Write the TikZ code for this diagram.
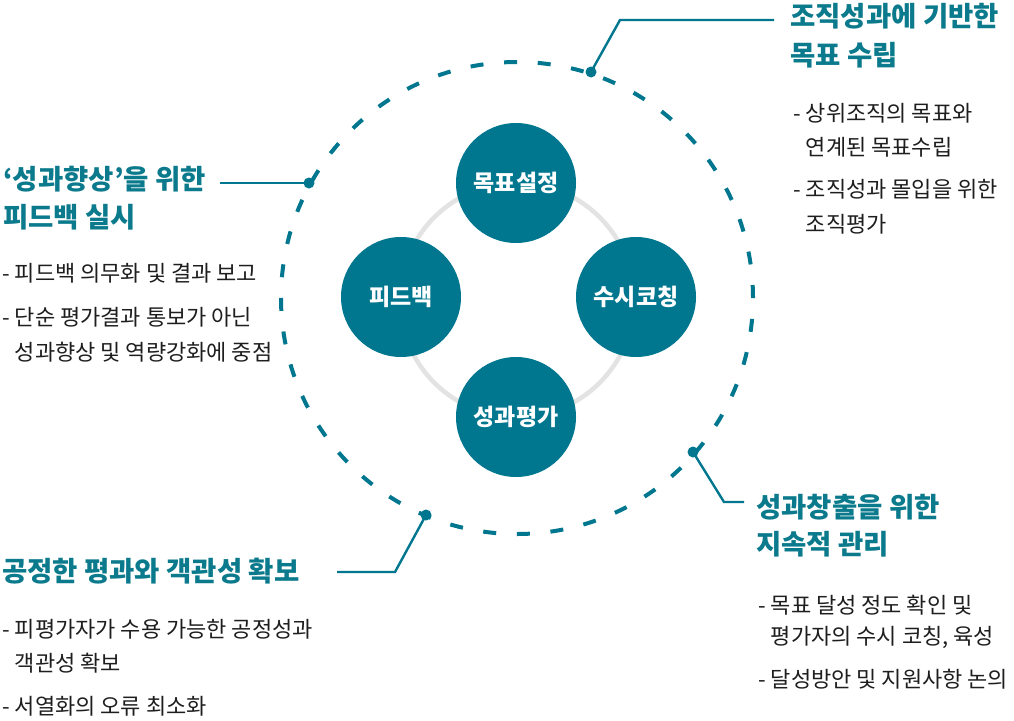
\documentclass[tikz,border=0pt]{standalone}
\usepackage{fontspec}
\setmainfont{Noto Sans CJK KR}
\definecolor{teal1}{HTML}{00778F}
\definecolor{headc}{HTML}{0B7A8C}
\definecolor{bodyc}{HTML}{1E1E1E}
\definecolor{ringc}{HTML}{E3E3E3}
\begin{document}
\begin{tikzpicture}[x=1pt,y=-1pt,
  phase/.style={circle,fill=teal1,minimum size=120pt,inner sep=0pt,text=white,font=\fontsize{23}{23}\selectfont\bfseries},
  dot/.style={circle,fill=teal1,minimum size=11pt,inner sep=0pt},
  link/.style={draw=teal1,line width=2.4pt},
  head/.style={anchor=west,inner sep=0pt,text=headc,font=\fontsize{27.5}{27.5}\selectfont\bfseries,text height=22pt,text depth=2pt},
  body/.style={anchor=west,inner sep=0pt,text=bodyc,font=\fontsize{22}{22}\selectfont,text height=17.6pt,text depth=1.6pt}]
\useasboundingbox[fill=white] (0,0) rectangle (1014,720);
% rings
\coordinate (c0) at (517,298);
\draw[ringc,line width=4.5pt] (517,300) circle[radius=117pt];
\draw[teal1,line width=4pt,dash pattern=on 13pt off 20.7pt] (c0) circle[radius=236pt];
% phases
\node[phase] (p1) at (516,183) {목표설정};
\node[phase] (p2) at (636,297) {수시코칭};
\node[phase] (p3) at (516,417) {성과평가};
\node[phase] (p4) at (401,297) {피드백};
% dots
\node[dot] (d1) at (591,72) {};
\node[dot] (d2) at (309,183) {};
\node[dot] (d3) at (426,515) {};
\node[dot] (d4) at (693,452) {};
% connector points
\coordinate (k1a) at (620,20);
\coordinate (k1b) at (774,20);
\coordinate (k2a) at (220,183);
\coordinate (k3a) at (395,572);
\coordinate (k3b) at (337,572);
\coordinate (k4a) at (724,502);
\coordinate (k4b) at (744,502);
\draw[link] (d1.center) -- (k1a) -- (k1b);
\draw[link] (d2.center) -- (k2a);
\draw[link] (d3.center) -- (k3a) -- (k3b);
\draw[link] (d4.center) -- (k4a) -- (k4b);
% top right
\node[head] (h1a) at (790,17) {조직성과에 기반한};
\node[head] (h1b) at (790,55) {목표 수립};
\node[body] (b1a) at (793,113) {- 상위조직의 목표와};
\node[body] (b1b) at (793,147) {\phantom{- }연계된 목표수립};
\node[body] (b1c) at (793,189) {- 조직성과 몰입을 위한};
\node[body] (b1d) at (793,224) {\phantom{- }조직평가};
% left
\node[head] (h2a) at (3,179) {‘성과향상’을 위한};
\node[head] (h2b) at (3,217) {피드백 실시};
\node[body] (b2a) at (2,273) {- 피드백 의무화 및 결과 보고};
\node[body] (b2b) at (2,317) {- 단순 평가결과 통보가 아닌};
\node[body] (b2c) at (2,352) {\phantom{- }성과향상 및 역량강화에 중점};
% bottom left
\node[head] (h3a) at (2,571) {공정한 평과와 객관성 확보};
\node[body] (b3a) at (2,629) {- 피평가자가 수용 가능한 공정성과};
\node[body] (b3b) at (2,663) {\phantom{- }객관성 확보};
\node[body] (b3c) at (2,706) {- 서열화의 오류 최소화};
% bottom right
\node[head] (h4a) at (756,507) {성과창출을 위한};
\node[head] (h4b) at (756,544) {지속적 관리};
\node[body] (b4a) at (758,605) {- 목표 달성 정도 확인 및};
\node[body] (b4b) at (758,636) {\phantom{- }평가자의 수시 코칭, 육성};
\node[body] (b4c) at (758,679) {- 달성방안 및 지원사항 논의};
\end{tikzpicture}
\end{document}
